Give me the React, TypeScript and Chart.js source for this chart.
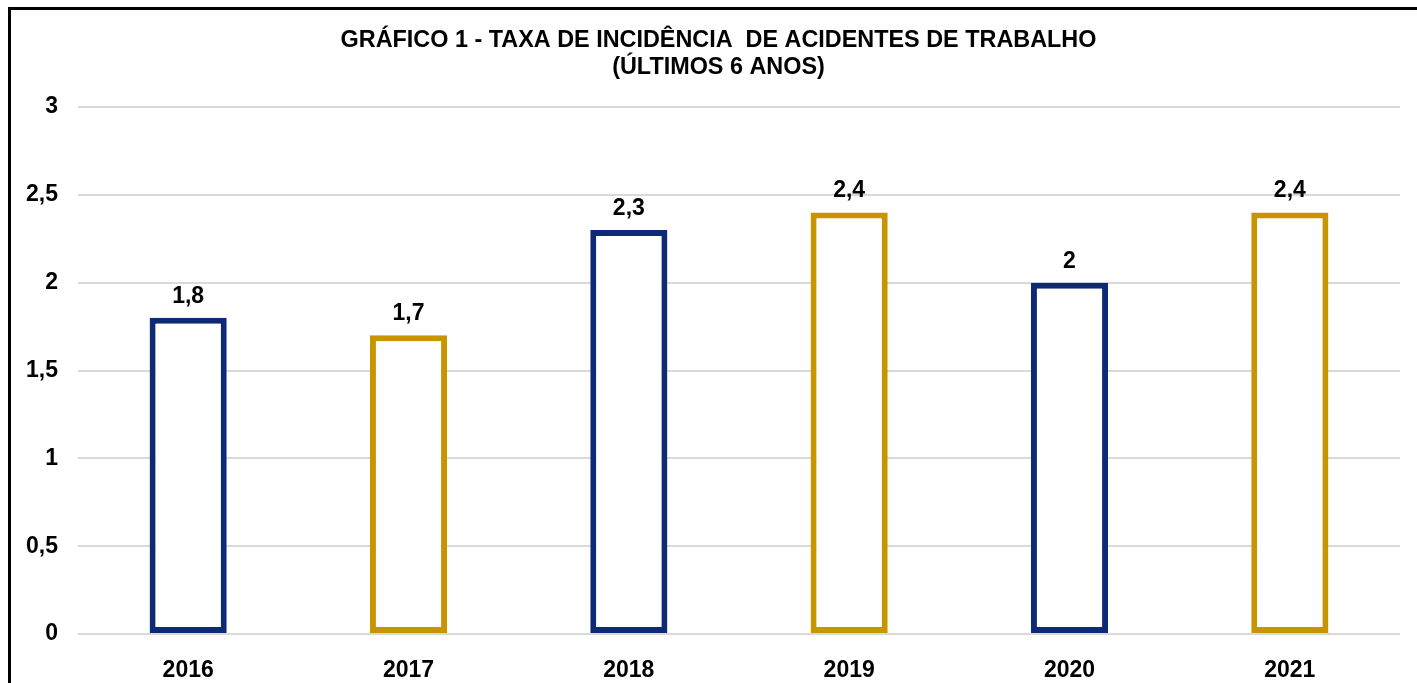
import React, { useEffect, useRef } from "react";
import { Chart, registerables } from "chart.js";

Chart.register(...registerables);

const categories = ["2016", "2017", "2018", "2019", "2020", "2021"];
const values = [1.8, 1.7, 2.3, 2.4, 2.0, 2.4];
const valueLabels = ["1,8", "1,7", "2,3", "2,4", "2", "2,4"];
const yTickLabels: Record<number, string> = { 0: "0", 0.5: "0,5", 1: "1", 1.5: "1,5", 2: "2", 2.5: "2,5", 3: "3" };
const titleLines = ["GRÁFICO 1 - TAXA DE INCIDÊNCIA  DE ACIDENTES DE TRABALHO", "(ÚLTIMOS 6 ANOS)"];

const NAVY = "#0c2a78";
const GOLD = "#c69500";
const barColors = [NAVY, GOLD, NAVY, GOLD, NAVY, GOLD];
const FONT = "'Liberation Sans', Arial, sans-serif";

const valueLabelPlugin = {
  id: "valueLabels",
  afterDatasetsDraw(chart: any) {
    const ctx = chart.ctx;
    const meta = chart.getDatasetMeta(0);
    ctx.save();
    ctx.font = `bold 23px ${FONT}`;
    ctx.fillStyle = "#000";
    ctx.textAlign = "center";
    ctx.textBaseline = "alphabetic";
    meta.data.forEach((bar: any, i: number) => {
      ctx.fillText(valueLabels[i], bar.x, bar.y - 15);
    });
    ctx.restore();
  },
};

const titlePlugin = {
  id: "customTitle",
  afterDraw(chart: any) {
    const ctx = chart.ctx;
    ctx.save();
    ctx.font = `bold 23.4px ${FONT}`;
    ctx.fillStyle = "#000";
    ctx.textAlign = "center";
    ctx.textBaseline = "middle";
    const cx = 718.5;
    titleLines.forEach((line, i) => {
      ctx.fillText(line, cx, 41 + i * 27);
    });
    ctx.restore();
  },
};

export default function App() {
  const ref = useRef<HTMLCanvasElement>(null);
  useEffect(() => {
    if (!ref.current) return;
    const chart = new Chart(ref.current, {
      type: "bar",
      data: {
        labels: categories,
        datasets: [
          {
            data: values,
            backgroundColor: "#ffffff",
            borderColor: barColors,
            borderWidth: 6,
            borderSkipped: false,
            barPercentage: 0.35,
            categoryPercentage: 1,
          },
        ],
      },
      options: {
        animation: false,
        responsive: false,
        layout: { padding: { left: 20, right: 17, top: 107, bottom: 0 } },
        plugins: {
          legend: { display: false },
          tooltip: { enabled: false },
          title: { display: false },
        },
        scales: {
          x: {
            grid: { display: false },
            border: { display: false },
            ticks: { color: "#000", font: { family: FONT, size: 23, weight: "bold" }, padding: 15 },
            afterFit: (s: any) => { s.height = 49; },
          },
          y: {
            min: 0,
            max: 3,
            grid: { color: "#d9d9d9", lineWidth: 2, drawTicks: false },
            border: { display: false },
            ticks: {
              stepSize: 0.5,
              padding: 20,
              color: "#000",
              font: { family: FONT, size: 23, weight: "bold" },
              callback: (v: any) => yTickLabels[v as number] ?? String(v),
            },
            afterFit: (s: any) => { s.width = 58; },
          },
        },
      },
      plugins: [valueLabelPlugin, titlePlugin],
    });
    return () => chart.destroy();
  }, []);
  return (
    <div style={{ position: "fixed", left: 0, top: 0, width: 1417, height: 683, background: "#fff", overflow: "hidden" }}>
      <canvas ref={ref} width={1417} height={683} style={{ position: "absolute", left: 0, top: 0, width: 1417, height: 683 }} />
      <div
        style={{
          position: "absolute",
          left: 8,
          top: 7,
          width: 1500,
          height: 800,
          borderLeft: "3px solid #000",
          borderTop: "3px solid #000",
          boxShadow: "0 1px 0 #bbb",
          pointerEvents: "none",
        }}
      />
    </div>
  );
}
